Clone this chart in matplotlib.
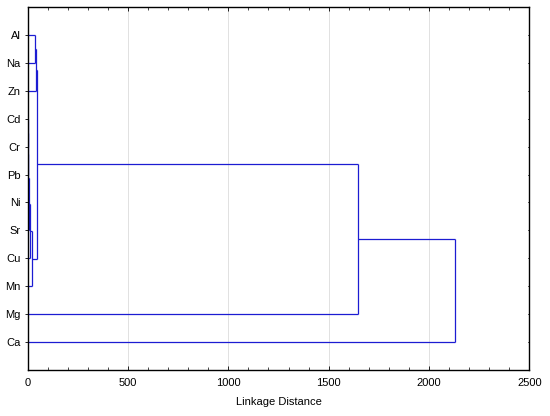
import matplotlib
matplotlib.use("Agg")
import matplotlib.pyplot as plt
from matplotlib.ticker import MultipleLocator

plt.rcParams['font.family'] = ['Liberation Sans', 'DejaVu Sans']

# Leaves (top to bottom)
labels = ["Al", "Na", "Zn", "Cd", "Cr", "Pb", "Ni", "Sr", "Cu", "Mn", "Mg", "Ca"]
# Merge steps: cluster ids 0..11 are leaves, new clusters get ids 12, 13, ...
merge_a = [3, 12, 13, 14, 15, 16, 0, 18, 19, 20, 21]
merge_b = [4, 5, 6, 7, 8, 9, 1, 2, 17, 10, 11]
merge_dist = [1.0, 2.0, 3.0, 5.0, 10.0, 21.0, 37.0, 42.0, 45.0, 1646.0, 2130.0]

color = '#1c1cd2'

fig = plt.figure(figsize=(5.5, 4.16), dpi=100)
ax = fig.add_axes([0.05, 0.1106, 0.9127, 0.8726])

pos = {i: (float(i), 0.0) for i in range(len(labels))}
nid = len(labels)
for a, b, d in zip(merge_a, merge_b, merge_dist):
    ya, xa = pos[a]
    yb, xb = pos[b]
    ax.plot([xa, d], [ya, ya], color=color, lw=0.9, solid_capstyle='butt')
    ax.plot([xb, d], [yb, yb], color=color, lw=0.9, solid_capstyle='butt')
    ax.plot([d, d], [ya, yb], color=color, lw=0.9, solid_capstyle='butt')
    pos[nid] = ((ya + yb) / 2.0, d)
    nid += 1

ax.set_xlim(0, 2500)
ax.set_ylim(12, -1)
ax.set_yticks(range(len(labels)))
ax.set_yticklabels(labels, fontsize=8)
ax.xaxis.set_major_locator(MultipleLocator(500))
ax.xaxis.set_minor_locator(MultipleLocator(100))
ax.tick_params(axis='x', which='major', direction='in', length=3, top=True, labelsize=8, width=0.6, pad=6)
ax.tick_params(axis='x', which='minor', direction='in', length=2, top=True, width=0.5)
ax.tick_params(axis='y', which='major', direction='out', length=2, right=False, width=0.6, pad=3)
for y in range(len(labels)):
    ax.plot([2493, 2500], [y, y], color='black', lw=0.5, clip_on=False)
ax.grid(axis='x', color='#dcdcdc', lw=0.6)
ax.set_axisbelow(True)
for s in ax.spines.values():
    s.set_linewidth(1.0)
ax.set_xlabel("Linkage Distance", fontsize=8, labelpad=6)

fig.savefig("out.png", dpi=100)
